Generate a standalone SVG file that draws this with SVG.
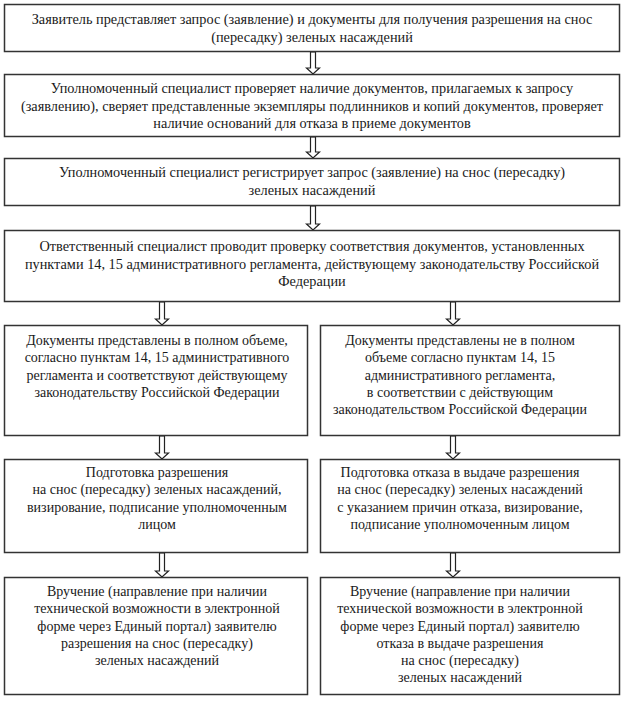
<svg xmlns="http://www.w3.org/2000/svg" width="623" height="703" viewBox="0 0 623 703">
<style>
.box{fill:#fff;stroke:#333;stroke-width:1.5}
.t{font-family:"Liberation Serif","Times New Roman",serif;font-size:14px;fill:#1a1a1a;text-anchor:middle}
.w{font-size:14.3px}
.arr{fill:#fff;stroke:#222;stroke-width:1.2;stroke-linejoin:miter}
</style>
<rect width="623" height="703" fill="#fff"/>
<g id="connectors">
<path class="arr" d="M310.5,52 V68 H306.5 L313,74 L319.5,68 H315.5 V52 Z"/>
<path class="arr" d="M310.5,137 V152 H306.5 L313,158 L319.5,152 H315.5 V137 Z"/>
<path class="arr" d="M310.5,206 V224 H306.5 L313,230 L319.5,224 H315.5 V206 Z"/>
<path class="arr" d="M159.5,302 V319 H155.5 L162,325 L168.5,319 H164.5 V302 Z"/>
<path class="arr" d="M450.5,302 V319 H446.5 L453,325 L459.5,319 H455.5 V302 Z"/>
<path class="arr" d="M159.5,436 V453 H155.5 L162,459 L168.5,453 H164.5 V436 Z"/>
<path class="arr" d="M450.5,436 V453 H446.5 L453,459 L459.5,453 H455.5 V436 Z"/>
<path class="arr" d="M159.5,553 V571 H155.5 L162,577 L168.5,571 H164.5 V553 Z"/>
<path class="arr" d="M450.5,553 V571 H446.5 L453,577 L459.5,571 H455.5 V553 Z"/>
</g>
<g id="n1">
<rect class="box" x="4.5" y="4.5" width="615" height="47"/>
<text class="t w" x="312" y="24">Заявитель представляет запрос (заявление) и документы для получения разрешения на снос</text>
<text class="t w" x="312" y="42">(пересадку) зеленых насаждений</text>
</g>
<g id="n2">
<rect class="box" x="4.5" y="74.5" width="615" height="62"/>
<text class="t w" x="312" y="93">Уполномоченный специалист проверяет наличие документов, прилагаемых к запросу</text>
<text class="t w" x="312" y="111">(заявлению), сверяет представленные экземпляры подлинников и копий документов, проверяет</text>
<text class="t w" x="312" y="128">наличие оснований для отказа в приеме документов</text>
</g>
<g id="n3">
<rect class="box" x="4.5" y="158.5" width="615" height="47"/>
<text class="t w" x="312" y="177">Уполномоченный специалист регистрирует запрос (заявление) на снос (пересадку)</text>
<text class="t w" x="312" y="195">зеленых насаждений</text>
</g>
<g id="n4">
<rect class="box" x="4.5" y="230.5" width="615" height="71"/>
<text class="t w" x="312" y="251">Ответственный специалист проводит проверку соответствия документов, установленных</text>
<text class="t w" x="312" y="269">пунктами 14, 15 административного регламента, действующему законодательству Российской</text>
<text class="t w" x="312" y="286">Федерации</text>
</g>
<g id="n5l">
<rect class="box" x="4.5" y="325.5" width="303" height="110"/>
<text class="t" x="157" y="345">Документы представлены в полном объеме,</text>
<text class="t" x="157" y="362">согласно пунктам 14, 15 административного</text>
<text class="t" x="157" y="380">регламента и соответствуют действующему</text>
<text class="t" x="157" y="397">законодательству Российской Федерации</text>
</g>
<g id="n5r">
<rect class="box" x="320.5" y="325.5" width="299" height="110"/>
<text class="t" x="460" y="345">Документы представлены не в полном</text>
<text class="t" x="460" y="362">объеме согласно пунктам 14, 15</text>
<text class="t" x="460" y="380">административного регламента,</text>
<text class="t" x="460" y="397">в соответствии с действующим</text>
<text class="t" x="460" y="414">законодательством Российской Федерации</text>
</g>
<g id="n6l">
<rect class="box" x="4.5" y="459.5" width="303" height="93"/>
<text class="t" x="157" y="477">Подготовка разрешения</text>
<text class="t" x="157" y="494">на снос (пересадку) зеленых насаждений,</text>
<text class="t" x="157" y="512">визирование, подписание уполномоченным</text>
<text class="t" x="157" y="529">лицом</text>
</g>
<g id="n6r">
<rect class="box" x="320.5" y="459.5" width="299" height="93"/>
<text class="t" x="460" y="477">Подготовка отказа в выдаче разрешения</text>
<text class="t" x="460" y="494">на снос (пересадку) зеленых насаждений</text>
<text class="t" x="460" y="512">с указанием причин отказа, визирование,</text>
<text class="t" x="460" y="529">подписание уполномоченным лицом</text>
</g>
<g id="n7l">
<rect class="box" x="4.5" y="577.5" width="303" height="117"/>
<text class="t" x="157" y="596">Вручение (направление при наличии</text>
<text class="t" x="157" y="613">технической возможности в электронной</text>
<text class="t" x="157" y="631">форме через Единый портал) заявителю</text>
<text class="t" x="157" y="648">разрешения на снос (пересадку)</text>
<text class="t" x="157" y="665">зеленых насаждений</text>
</g>
<g id="n7r">
<rect class="box" x="320.5" y="577.5" width="299" height="117"/>
<text class="t" x="460" y="596">Вручение (направление при наличии</text>
<text class="t" x="460" y="613">технической возможности в электронной</text>
<text class="t" x="460" y="631">форме через Единый портал) заявителю</text>
<text class="t" x="460" y="648">отказа в выдаче разрешения</text>
<text class="t" x="460" y="665">на снос (пересадку)</text>
<text class="t" x="460" y="682">зеленых насаждений</text>
</g>
</svg>
